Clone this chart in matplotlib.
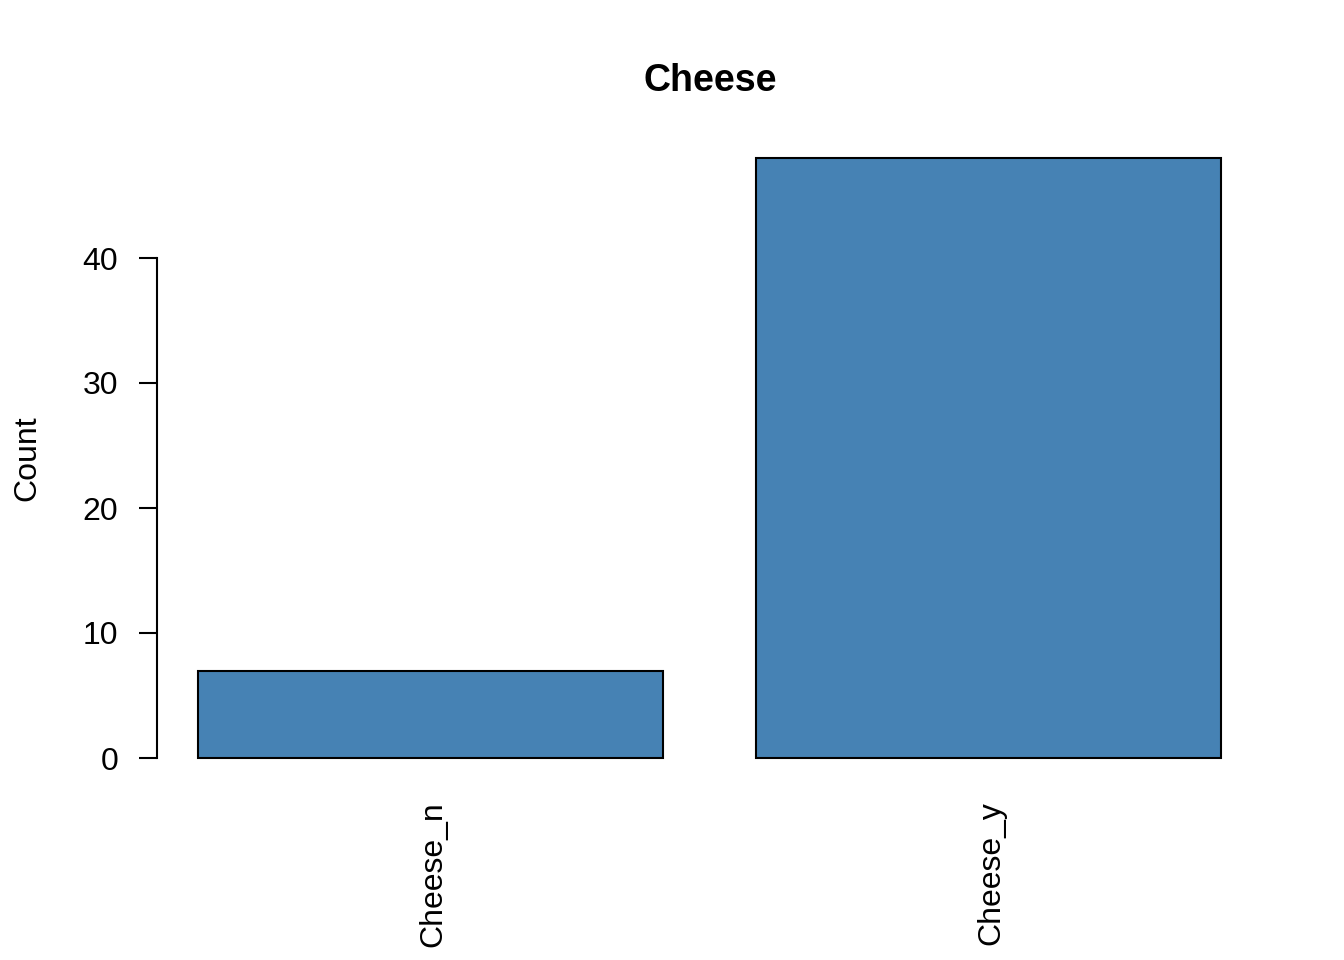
import matplotlib
matplotlib.use("Agg")
from matplotlib import pyplot as plt
from matplotlib.transforms import ScaledTranslation

categories = ["Cheese_n", "Cheese_y"]
counts = [7, 48]
y_ticks = [0, 10, 20, 30, 40]

plt.rcParams['font.family'] = ['Liberation Sans', 'DejaVu Sans']

fig = plt.figure(figsize=(13.44, 9.6), dpi=100)
ax = fig.add_axes([157 / 1344, 178 / 960, (1262 - 157) / 1344, (782 - 134) / 960])

# R barplot layout: width 1, space 0.2
centers = [0.7, 1.9]
ax.bar(centers, counts, width=1.0, color="#4682B4", edgecolor="black", linewidth=1.5)

ax.set_xlim(0.112, 2.488)
ax.set_ylim(-1.92, 49.92)

for side in ["top", "right", "bottom"]:
    ax.spines[side].set_visible(False)
ax.spines["left"].set_bounds(0, 40)
ax.spines["left"].set_linewidth(1.5)

ax.set_yticks(y_ticks)
ax.set_yticklabels([str(t) for t in y_ticks], fontsize=23)
ax.tick_params(axis="y", length=13, width=1.5, pad=15)

ax.set_xticks(centers)
ax.set_xticklabels(categories, rotation=90, fontsize=23)
ax.tick_params(axis="x", length=0, pad=14)
shift = ScaledTranslation(3 / 100, 0, fig.dpi_scale_trans)
for lbl in ax.get_xticklabels():
    lbl.set_transform(lbl.get_transform() + shift)

ax.set_ylabel("Count", fontsize=23, labelpad=29)
fig.text(710 / 1344, 1 - 81 / 960, "Cheese", ha="center", va="center",
         fontsize=27, fontweight="bold")

fig.savefig("out.png", dpi=100)
